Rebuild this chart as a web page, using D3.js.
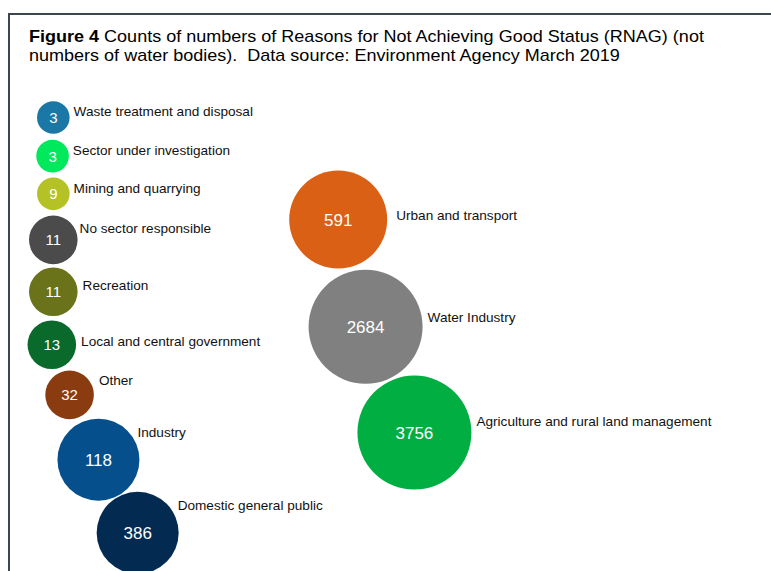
<!DOCTYPE html>
<html>
<head>
<meta charset="utf-8">
<script src="https://cdn.jsdelivr.net/npm/d3@7"></script>
<style>
  html, body { margin: 0; padding: 0; background: #ffffff; }
  svg { display: block; }
</style>
</head>
<body>
<svg id="chart" width="771" height="571"></svg>
<script>
// ---------------- DATA ----------------
const categories = [
  "Waste treatment and disposal",
  "Sector under investigation",
  "Mining and quarrying",
  "No sector responsible",
  "Recreation",
  "Local and central government",
  "Other",
  "Industry",
  "Domestic general public",
  "Urban and transport",
  "Water Industry",
  "Agriculture and rural land management"
];
// RNAG counts
const counts = [3, 3, 9, 11, 11, 13, 32, 118, 386, 591, 2684, 3756];
// bubble-chart x / y values (hidden axes, 0–100)
const xValues = [4.5, 4.4, 4.5, 4.5, 4.5, 4.3, 6.7, 10.6, 15.9, 43.0, 46.7, 53.3];
const yValues = [96.2, 87.8, 79.6, 69.6, 58.3, 46.8, 35.9, 21.8, 5.9, 74.0, 50.7, 27.7];

const titleBold = "Figure 4";
const titleLine1 = " Counts of numbers of Reasons for Not Achieving Good Status (RNAG) (not";
const titleLine2 = "numbers of water bodies).  Data source: Environment Agency March 2019";

// ---------------- STYLE ----------------
const colors = [
  "#1b77a6", "#00e85c", "#b4c225", "#4b4b4b", "#6a7319", "#096a2b",
  "#8a3b10", "#054f8c", "#032b51", "#da6016", "#808080", "#00ae42"
];
// label nudges (dx from bubble edge, dy from bubble centre to baseline)
const labelNudge = [
  [4, -1], [4, -1], [4, -1], [2, -7], [5, -2], [5, 1.5],
  [5, -10], [-2, -23], [-1, -23], [9, 0.5], [5, -5], [5, -7]
];

const W = 771, H = 571;
const svg = d3.select("#chart");

// frame
svg.append("line").attr("x1", 9).attr("x2", W).attr("y1", 14).attr("y2", 14)
  .attr("stroke", "#3c4650").attr("stroke-width", 2);
svg.append("line").attr("x1", 9).attr("x2", 9).attr("y1", 13).attr("y2", H)
  .attr("stroke", "#3c4650").attr("stroke-width", 2);

// title (slightly stretched horizontally, as in the reference)
const font = "Liberation Sans, Arial, sans-serif";
const titleG = svg.append("g").attr("transform", "translate(29,0) scale(1.127,1)");
const t1 = titleG.append("text").attr("x", 0).attr("y", 42.5)
  .attr("font-family", font).attr("font-size", 16).attr("fill", "#000");
t1.append("tspan").attr("font-weight", "bold").text(titleBold);
t1.append("tspan").text(titleLine1);
titleG.append("text").attr("x", 0).attr("y", 61.5)
  .attr("font-family", font).attr("font-size", 16).attr("fill", "#000")
  .style("white-space", "pre")
  .text(titleLine2);

// scales
const x = d3.scaleLinear().domain([0, 100]).range([20, 760]);
const y = d3.scaleLinear().domain([0, 100]).range([560, 100]);
const r = d3.scaleThreshold().domain([10, 100, 500, 1000]).range([16.3, 24.3, 41, 49, 57]);

const data = categories.map((c, i) => ({
  name: c, count: counts[i], xv: xValues[i], yv: yValues[i],
  color: colors[i], nudge: labelNudge[i]
}));

const g = svg.append("g").selectAll("g").data(data).join("g");

g.append("circle")
  .attr("cx", d => x(d.xv))
  .attr("cy", d => y(d.yv))
  .attr("r", d => r(d.count))
  .attr("fill", d => d.color);

g.append("text")
  .attr("x", d => x(d.xv))
  .attr("y", d => y(d.yv))
  .attr("dy", "0.36em")
  .attr("text-anchor", "middle")
  .attr("font-family", font)
  .attr("font-size", d => r(d.count) > 30 ? 17 : 15)
  .attr("fill", "#ffffff")
  .text(d => d.count);

g.append("text")
  .attr("x", d => x(d.xv) + r(d.count) + d.nudge[0])
  .attr("y", d => y(d.yv) + d.nudge[1])
  .attr("font-family", font)
  .attr("font-size", 13.6)
  .attr("fill", "#111")
  .text(d => d.name);
</script>
</body>
</html>
